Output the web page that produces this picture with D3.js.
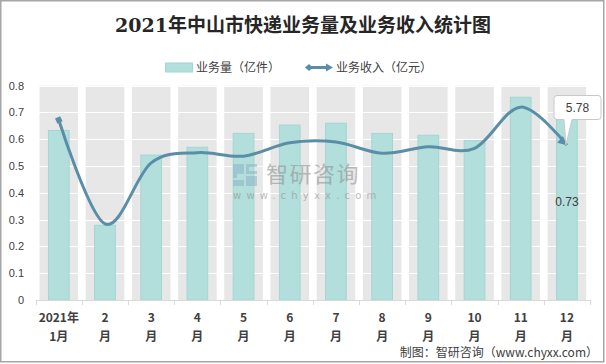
<!DOCTYPE html>
<html><head><meta charset="utf-8">
<script src="https://cdn.jsdelivr.net/npm/d3@7"></script>
<style>body{margin:0;background:#fff}svg{display:block}</style>
</head><body><svg id="c" width="606" height="364"></svg>
<script>
const months = ["2021年|1月","2|月","3|月","4|月","5|月","6|月","7|月","8|月","9|月","10|月","11|月","12|月"];
const volume = [0.633,0.279,0.541,0.570,0.622,0.653,0.660,0.622,0.615,0.595,0.757,0.73];
const revenue = [6.72,2.84,5.12,5.50,5.37,5.87,5.90,5.48,5.72,5.66,7.20,5.78];
const yTicks = [0,0.1,0.2,0.3,0.4,0.5,0.6,0.7,0.8];
const title = "2021年中山市快递业务量及业务收入统计图";
const legendNames = ["业务量（亿件）","业务收入（亿元）"];

const svg = d3.select("#c");
const m={l:35.7,r:590,t:85.7,b:300};
const x = d3.scaleBand().domain(months).range([m.l,m.r]);
const xBg = d3.scaleBand().domain(months).range([m.l,m.r]).paddingInner(0.165).paddingOuter(0.0825);
const y = d3.scaleLinear().domain([0,0.8]).range([m.b,m.t]);
const y2 = d3.scaleLinear().domain([0,8]).range([m.b,m.t]);
const txt="#404040";

svg.append("rect").attr("x",0.75).attr("y",0.75).attr("width",603).attr("height",361).attr("fill","#fff").attr("stroke","#a6a6a6").attr("stroke-width",1.5);

svg.append("text").attr("x",303).attr("y",32).attr("text-anchor","middle")
 .attr("font-family","'DejaVu Serif','Noto Sans CJK SC',serif").attr("font-weight","bold").attr("font-size",19)
 .attr("fill","#262626").text(title);

// legend
svg.append("rect").attr("x",165.5).attr("y",63).attr("width",27).attr("height",9).attr("fill","#b2dfdb").attr("stroke","#a3d6d1");
svg.append("text").attr("x",196).attr("y",72).attr("font-family","'Noto Sans CJK SC'").attr("font-size",12).attr("fill",txt).text(legendNames[0]);
svg.append("line").attr("x1",308).attr("x2",328).attr("y1",67.5).attr("y2",67.5).attr("stroke","#5a8ea6").attr("stroke-width",3);
svg.append("path").attr("d","M305,67.5 L309,64 L313,67.5 L309,71Z").attr("fill","#5a8ea6");
svg.append("path").attr("d","M333,67.5 L326,63.5 L326,71.5Z").attr("fill","#5a8ea6");
svg.append("text").attr("x",336).attr("y",72).attr("font-family","'Noto Sans CJK SC'").attr("font-size",12).attr("fill",txt).text(legendNames[1]);

// gray columns
svg.append("g").selectAll("rect").data(months).join("rect")
 .attr("x",d=>xBg(d)).attr("width",xBg.bandwidth()).attr("y",y(0.8)).attr("height",y(0)-y(0.8)).attr("fill","#e7e7e7");
// white gridlines
svg.append("g").selectAll("line").data(yTicks.slice(1)).join("line")
 .attr("x1",m.l).attr("x2",m.r).attr("y1",d=>Math.round(y(d))+0.5).attr("y2",d=>Math.round(y(d))+0.5).attr("stroke","#fff").attr("stroke-width",1.2);

// y axis labels
svg.append("g").selectAll("text").data(yTicks).join("text")
 .attr("x",24).attr("y",d=>y(d)+4).attr("text-anchor","end").attr("font-family","'Liberation Sans',Arial").attr("font-size",11).attr("fill",txt)
 .text(d=>d===0?"0":d3.format(".1f")(d));

// bars
const bw=20.7;
svg.append("g").selectAll("rect").data(volume).join("rect")
 .attr("x",(d,i)=>x(months[i])+x.bandwidth()/2-bw/2).attr("width",bw)
 .attr("y",d=>y(d)).attr("height",d=>y(0)-y(d)).attr("fill","#b2dfdb").attr("stroke","#a3d6d1").attr("stroke-width",1);

// x axis
const xa = svg.append("g").attr("transform",`translate(0,${m.b})`);
xa.append("line").attr("x1",m.l).attr("x2",m.r).attr("y1",0.5).attr("y2",0.5).attr("stroke","#d9d9d9");
xa.selectAll("line.t").data(d3.range(13)).join("line").attr("class","t")
 .attr("x1",i=>Math.round(m.l+i*x.step())+0.5).attr("x2",i=>Math.round(m.l+i*x.step())+0.5).attr("y1",0).attr("y2",5).attr("stroke","#d9d9d9");
const xl = svg.append("g").selectAll("text").data(months).join("text")
 .attr("text-anchor","middle").attr("font-family","'Noto Sans CJK SC'").attr("font-weight","bold").attr("font-size",12).attr("fill",txt);
xl.each(function(d){
  const p=d.split("|"); const cx=x(d)+x.bandwidth()/2; const t=d3.select(this);
  t.append("tspan").attr("x",cx).attr("y",322).text(p[0]);
  t.append("tspan").attr("x",cx).attr("y",341).text(p[1]);
});

// watermark
const wm=svg.append("g").attr("opacity",0.55);
wm.append("path").attr("d","M233,164 h11 v10 h-7 v4 h-4Z M246,164 h11 v3 h-8 v4 h8 v3 h-11Z M233,180 h11 v6 h-11Z M246,176 h11 v10 h-11Z").attr("fill","#8fb3c9");
wm.append("text").attr("x",266).attr("y",182).attr("font-family","'Noto Sans CJK SC'").attr("font-size",22).attr("letter-spacing",1.5).attr("fill","#8c8c8c").text("智研咨询");
wm.append("text").attr("x",233).attr("y",199).attr("font-family","'DejaVu Sans'").attr("font-size",10).attr("letter-spacing",5.2).attr("fill","#8c8c8c").text("www.chyxx.com");

// line
const pts = revenue.map((v,i)=>[x(months[i])+x.bandwidth()/2,y2(v)]);
svg.append("path").attr("d",d3.line().curve(d3.curveCatmullRom.alpha(0))(pts))
 .attr("fill","none").attr("stroke","#5a8ea6").attr("stroke-width",3);
// start diamond
const p0=pts[0];
svg.append("path").attr("d",`M${p0[0]-4},${p0[1]} L${p0[0]},${p0[1]-4} L${p0[0]+4},${p0[1]} L${p0[0]},${p0[1]+4}Z`).attr("fill","#5a8ea6")
 .attr("transform",`rotate(20,${p0[0]},${p0[1]})`);
// end arrow
const pe=pts[11];
svg.append("path").attr("d","M0,0 L-9,-4.5 L-9,4.5Z").attr("fill","#5a8ea6").attr("transform",`translate(${pe[0]},${pe[1]}) rotate(40)`);

// labels
svg.append("text").attr("x",x(months[11])+x.bandwidth()/2).attr("y",(y(volume[11])+y(0))/2+4).attr("text-anchor","middle")
 .attr("font-family","'Liberation Sans',Arial").attr("font-size",12).attr("fill",txt).text(volume[11].toFixed(2));
svg.append("path").attr("d",`M557,95.5 H598 Q601,95.5 601,98.5 V116.5 Q601,119.5 598,119.5 H572 L${pe[0]-1},${pe[1]} L564,119.5 H557 Q554,119.5 554,116.5 V98.5 Q554,95.5 557,95.5Z`)
 .attr("fill","#fff").attr("stroke","#c8c8c8");
svg.append("text").attr("x",577.5).attr("y",112).attr("text-anchor","middle")
 .attr("font-family","'Liberation Sans',Arial").attr("font-size",12).attr("fill",txt).text(revenue[11].toFixed(2));

// footer
svg.append("text").attr("x",598).attr("y",357).attr("text-anchor","end").attr("font-family","'Noto Sans CJK SC'").attr("font-size",12).attr("fill",txt)
 .text("制图：智研咨询（www.chyxx.com）");
</script></body></html>
